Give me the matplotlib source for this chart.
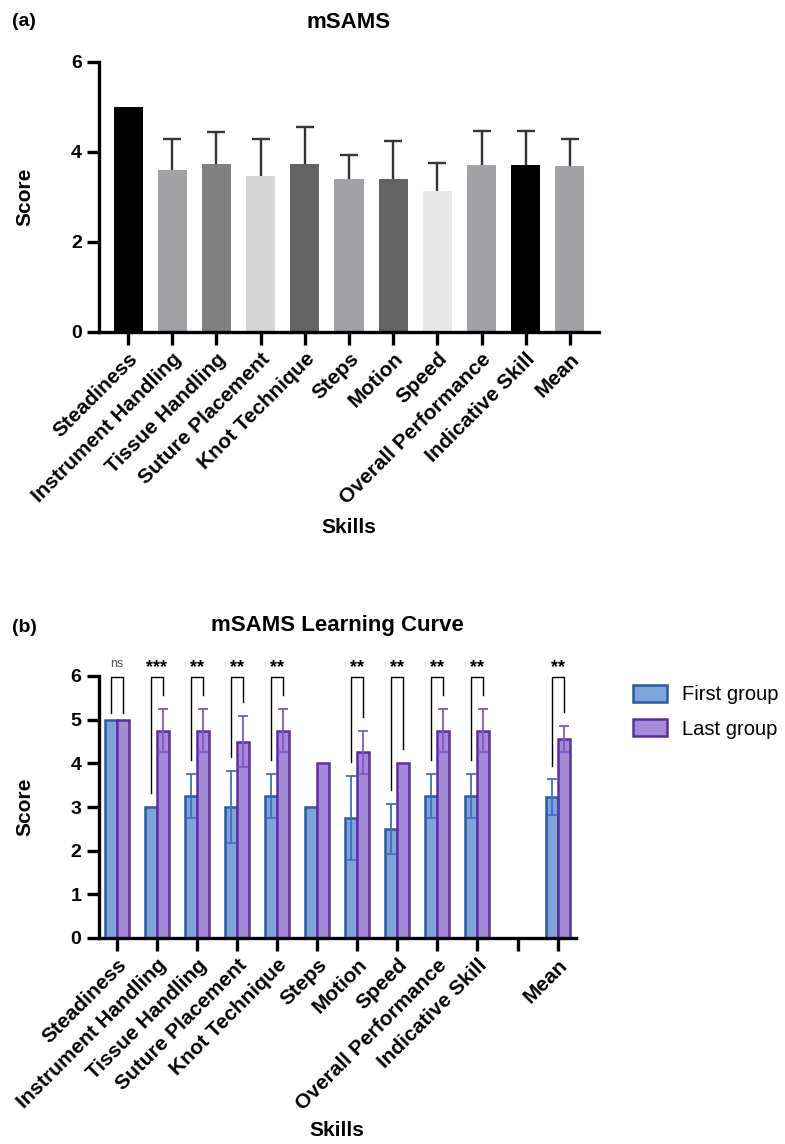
import numpy as np
import matplotlib
matplotlib.use("Agg")
import matplotlib.pyplot as plt

plt.rcParams['font.family'] = ['Liberation Sans', 'DejaVu Sans']

# (a) mSAMS overall scores
skills_a = ['Steadiness', 'Instrument Handling', 'Tissue Handling', 'Suture Placement',
            'Knot Technique', 'Steps', 'Motion', 'Speed', 'Overall Performance',
            'Indicative Skill', 'Mean']
score_a = [5.0, 3.59, 3.73, 3.46, 3.73, 3.41, 3.41, 3.14, 3.72, 3.72, 3.69]
err_a = [0.0, 0.70, 0.71, 0.84, 0.82, 0.52, 0.83, 0.61, 0.74, 0.74, 0.60]
colors_a = ['#000000', '#a2a2a6', '#808080', '#d6d6d6', '#636363', '#a2a2a6',
            '#636363', '#e8e8e8', '#a2a2a6', '#000000', '#a2a2a6']

# (b) learning curve, first vs last group (index 10 is an empty slot)
skills_b = ['Steadiness', 'Instrument Handling', 'Tissue Handling', 'Suture Placement',
            'Knot Technique', 'Steps', 'Motion', 'Speed', 'Overall Performance',
            'Indicative Skill', '', 'Mean']
first = [5.0, 3.0, 3.25, 3.0, 3.25, 3.0, 2.75, 2.5, 3.25, 3.25, np.nan, 3.22]
first_err = [0.0, 0.0, 0.5, 0.82, 0.5, 0.0, 0.96, 0.58, 0.5, 0.5, np.nan, 0.41]
last = [5.0, 4.75, 4.75, 4.5, 4.75, 4.0, 4.25, 4.0, 4.75, 4.75, np.nan, 4.55]
last_err = [0.0, 0.5, 0.5, 0.58, 0.5, 0.0, 0.5, 0.0, 0.5, 0.5, np.nan, 0.3]
signif = ['ns', '***', '**', '**', '**', '', '**', '**', '**', '**', '', '**']

W, H = 785, 1144
fig = plt.figure(figsize=(W / 100, H / 100), dpi=100)


def style_axes(ax):
    for s in ['top', 'right']:
        ax.spines[s].set_visible(False)
    for s in ['left', 'bottom']:
        ax.spines[s].set_linewidth(2.4)
    ax.tick_params(width=2.4, length=9)
    for lab in ax.get_yticklabels():
        lab.set_fontweight('bold')
        lab.set_fontsize(14)


def errs(x, y, e, ax, color, lw, cap, both=True, z=3):
    # skip zero-length error bars, they have no caps in the original
    x = np.asarray(x, float)
    y = np.asarray(y, float)
    e = np.asarray(e, float)
    m = np.nan_to_num(e) > 0
    lo = e[m] if both else np.zeros(m.sum())
    ax.errorbar(x[m], y[m], yerr=[lo, e[m]], fmt='none', ecolor=color,
                elinewidth=lw, capsize=0, zorder=z)
    ax.plot(x[m], y[m] + e[m], ls='none', marker='_', ms=cap, mew=lw,
            color=color, zorder=z)
    if both:
        ax.plot(x[m], y[m] - e[m], ls='none', marker='_', ms=cap, mew=lw,
                color=color, zorder=z)


# ---- panel (a)
ax1 = fig.add_axes([99 / W, 1 - 332 / H, 500 / W, 270 / H])
x_a = np.arange(len(skills_a))
ax1.bar(x_a, score_a, width=0.66, color=colors_a, zorder=2)
errs(x_a, score_a, err_a, ax1, '#333333', 1.7, 13, both=False, z=1)
ax1.set_xlim(-0.66, len(skills_a) - 1 + 0.66)
ax1.set_ylim(0, 6)
ax1.set_yticks([0, 2, 4, 6])
ax1.set_xticks(x_a)
ax1.set_xticklabels(skills_a, rotation=45, ha='right', rotation_mode='anchor',
                    fontsize=15, fontweight='bold')
style_axes(ax1)
ax1.set_ylabel('Score', fontsize=15, fontweight='bold')
ax1.yaxis.set_label_coords(-0.13, 0.5)
ax1.set_xlabel('Skills', fontsize=15, fontweight='bold')
ax1.xaxis.set_label_coords(0.5, -0.69)
fig.text(349 / W, 1 - 22 / H, 'mSAMS', ha='center', va='center',
         fontsize=16, fontweight='bold')
fig.text(12 / W, 1 - 22 / H, '(a)', ha='left', va='center', fontsize=14,
         fontweight='bold')

# ---- panel (b)
ax2 = fig.add_axes([98.5 / W, 1 - 938 / H, 477.5 / W, 262 / H])
x_b = np.arange(len(skills_b))
bw = 0.3
b1 = ax2.bar(x_b - bw / 2, first, width=bw, color='#7da5dc', edgecolor='#2c5a9c',
             linewidth=1.8, label='First group', zorder=2)
b2 = ax2.bar(x_b + bw / 2, last, width=bw, color='#a68ad8', edgecolor='#5b2f9e',
             linewidth=1.8, label='Last group', zorder=2)
errs(x_b - bw / 2, first, first_err, ax2, '#3f6fc2', 1.3, 7)
errs(x_b + bw / 2, last, last_err, ax2, '#7f58c8', 1.3, 7)

# significance brackets
for i, s in enumerate(signif):
    if not s:
        continue
    gap = 0.15 if s == 'ns' else 0.32
    y_l = first[i] + first_err[i] + gap
    y_r = last[i] + last_err[i] + gap
    xl, xr = x_b[i] - bw / 2, x_b[i] + bw / 2
    ax2.plot([xl, xl, xr, xr], [y_l, 5.97, 5.97, y_r], color='black', lw=1.0,
             clip_on=False, zorder=4)
    if s == 'ns':
        ax2.text(x_b[i], 6.27, s, ha='center', va='center', fontsize=9,
                 color='#555555')
    else:
        ax2.text(x_b[i], 6.2, s, ha='center', va='center', fontsize=13,
                 fontweight='bold')

ax2.set_xlim(-0.46, len(skills_b) - 1 + 0.46)
ax2.set_ylim(0, 6)
ax2.set_yticks(range(7))
ax2.set_xticks(x_b)
ax2.set_xticklabels(skills_b, rotation=45, ha='right', rotation_mode='anchor',
                    fontsize=15, fontweight='bold')
style_axes(ax2)
ax2.set_ylabel('Score', fontsize=15, fontweight='bold')
ax2.yaxis.set_label_coords(-0.135, 0.5)
ax2.set_xlabel('Skills', fontsize=15, fontweight='bold')
ax2.xaxis.set_label_coords(0.5, -0.7)
ax2.legend(handles=[b1, b2], loc='center left', bbox_to_anchor=(1.119, 0.863),
           frameon=False, fontsize=14.5, borderaxespad=0, borderpad=0,
           handlelength=1.7, handleheight=0.9, handletextpad=0.75,
           labelspacing=0.75)
fig.text(337 / W, 1 - 625 / H, 'mSAMS Learning Curve', ha='center', va='center',
         fontsize=16, fontweight='bold')
fig.text(12 / W, 1 - 628 / H, '(b)', ha='left', va='center', fontsize=14,
         fontweight='bold')

fig.savefig('out.png', dpi=100)
